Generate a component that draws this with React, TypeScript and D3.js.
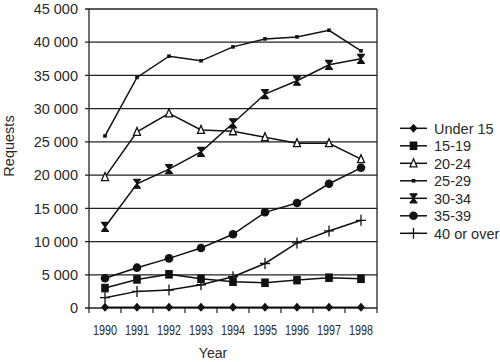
import React from "react";
import * as d3 from "d3";

const years = ["1990", "1991", "1992", "1993", "1994", "1995", "1996", "1997", "1998"];
const yTicks = [0, 5000, 10000, 15000, 20000, 25000, 30000, 35000, 40000, 45000];
const seriesNames = ["Under 15", "15-19", "20-24", "25-29", "30-34", "35-39", "40 or over"];
const under15 = [100, 100, 100, 100, 100, 100, 100, 100, 100];
const s15_19 = [3000, 4300, 5070, 4400, 3960, 3800, 4200, 4560, 4400];
const s20_24 = [19700, 26500, 29300, 26800, 26600, 25700, 24800, 24800, 22400];
const s25_29 = [25900, 34700, 37900, 37200, 39300, 40500, 40800, 41800, 38700];
const s30_34 = [12200, 18700, 20900, 23500, 27800, 32200, 34200, 36600, 37500];
const s35_39 = [4470, 6070, 7470, 9030, 11100, 14400, 15800, 18700, 21100];
const s40plus = [1550, 2500, 2700, 3500, 4700, 6700, 9800, 11600, 13200];
const allSeries = [under15, s15_19, s20_24, s25_29, s30_34, s35_39, s40plus];
const markerTypes = ["diamond", "square", "triangle", "smallsquare", "xbar", "circle", "plus"];

const W = 500, H = 362;
const L = 89, R = 377, T = 9, B = 308;
const INK = "#111";
const TXT = "#2a2a2a";
const FONT = "'Liberation Sans', Arial, sans-serif";

function Marker({ type, x, y }: { type: string; x: number; y: number }) {
  switch (type) {
    case "diamond":
      return <path d={`M${x},${y - 4.5}L${x + 4},${y}L${x},${y + 4.5}L${x - 4},${y}Z`} fill={INK} />;
    case "square":
      return <rect x={x - 3.8} y={y - 4.3} width={7.6} height={8.6} fill={INK} />;
    case "triangle":
      return <path d={`M${x},${y - 4.5}L${x + 3.5},${y + 3.5}L${x - 3.5},${y + 3.5}Z`} fill="#fff" stroke={INK} strokeWidth={1.3} />;
    case "smallsquare":
      return <rect x={x - 1.8} y={y - 1.8} width={3.6} height={3.6} fill={INK} />;
    case "xbar":
      return (
        <path d={`M${x - 3.5},${y - 4.5}H${x + 3.5}L${x - 3.5},${y + 4.5}H${x + 3.5}Z`} fill={INK} stroke={INK} strokeWidth={1.2} strokeLinejoin="round" />
      );
    case "circle":
      return <circle cx={x} cy={y} r={4.3} fill={INK} />;
    case "plus":
      return <path d={`M${x},${y - 5.5}V${y + 5.5}M${x - 5},${y}H${x + 5}`} stroke={INK} strokeWidth={1.3} />;
  }
  return null;
}

export default function App() {
  const x = d3.scaleBand().domain(years).range([L, R]).padding(0);
  const y = d3.scaleLinear().domain([0, 45000]).range([B, T]);
  const cx = (yr: string) => (x(yr) as number) + x.bandwidth() / 2;
  const line = d3
    .line<number>()
    .x((_, i) => cx(years[i]))
    .y((d) => y(d));
  const fmt = (v: number) => d3.format(",")(v).replace(/,/g, " ");
  const legendY0 = 128.3;
  const legendStep = 17.5;

  return (
    <svg width={W} height={H} style={{ position: "absolute", left: 0, top: 0, background: "#fff" }}>
      <rect x={0} y={0} width={W} height={H} fill="#fff" />
      {yTicks.map((t) => (
        <line key={t} x1={L - 4} x2={R} y1={y(t)} y2={y(t)} stroke="#222" strokeWidth={1.3} />
      ))}
      <line x1={L} x2={L} y1={T} y2={B} stroke="#222" strokeWidth={1.3} />
      <line x1={R} x2={R} y1={T} y2={B} stroke="#222" strokeWidth={1.3} />
      {years.map((yr) => (
        <line key={yr} x1={x(yr) as number} x2={x(yr) as number} y1={B} y2={B + 5} stroke="#222" strokeWidth={1.2} />
      ))}
      <line x1={R} x2={R} y1={B} y2={B + 5} stroke="#222" strokeWidth={1.2} />
      {yTicks.map((t) => (
        <text key={t} x={78} y={y(t)} dy="0.36em" textAnchor="end" fontFamily={FONT} fontSize={14.5} fill={TXT}>
          {fmt(t)}
        </text>
      ))}
      {years.map((yr) => (
        <text key={yr} x={cx(yr)} y={330} dy="0.36em" textAnchor="middle" fontFamily={FONT} fontSize={14}
          textLength={24} lengthAdjust="spacingAndGlyphs" fill={TXT}>
          {yr}
        </text>
      ))}
      <text x={213} y={353} dy="0.36em" textAnchor="middle" fontFamily={FONT} fontSize={14} fill={TXT}>Year</text>
      <text transform={`translate(14,146) rotate(-90)`} textAnchor="middle" fontFamily={FONT} fontSize={14.5} fill={TXT}>Requests</text>
      {allSeries.map((s, si) => (
        <g key={si}>
          <path d={line(s) as string} fill="none" stroke={INK} strokeWidth={1.5} />
          {s.map((v, i) => (
            <Marker key={i} type={markerTypes[si]} x={cx(years[i])} y={y(v)} />
          ))}
        </g>
      ))}
      {seriesNames.map((n, i) => {
        const ly = legendY0 + i * legendStep;
        return (
          <g key={n}>
            <line x1={400} x2={427} y1={ly} y2={ly} stroke={INK} strokeWidth={1.5} />
            <Marker type={markerTypes[i]} x={413.5} y={ly} />
            <text x={434} y={ly} dy="0.36em" fontFamily={FONT} fontSize={14.5} fill={TXT}>{n}</text>
          </g>
        );
      })}
    </svg>
  );
}
